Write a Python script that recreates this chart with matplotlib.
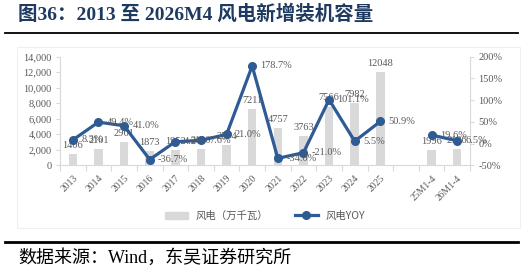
import numpy as np
import matplotlib
matplotlib.use('Agg')
import matplotlib.pyplot as plt
from matplotlib.lines import Line2D
from matplotlib.patches import Patch, Rectangle

plt.rcParams['font.family'] = ['Liberation Serif', 'Noto Sans CJK SC', 'DejaVu Sans']

cats = ['2013', '2014', '2015', '2016', '2017', '2018', '2019', '2020', '2021',
        '2022', '2023', '2024', '2025', '', '25M1-4', '26M1-4']
cap = [1406, 2101, 2961, 1873, 1952, 2100, 2574, 7211, 4757, 3763, 7566, 7982,
       12048, np.nan, 1996, 2126]
yoy = [8.3, 49.4, 41.0, -36.7, 4.2, 7.6, 21.0, 178.7, -34.0, -21.0, 101.1, 5.5,
       50.9, np.nan, 19.6, 6.5]

bar_c = '#D9D9D9'
line_c = '#2E5B94'
txt_c = '#595959'
ax_c = '#D9D9D9'

fig = plt.figure(figsize=(5.25, 2.76), dpi=100)
W, H = 525, 276

# title + rules
fig.text(18 / W, 1 - 14 / H, '图36：2013 至 2026M4 风电新增装机容量', fontsize=14,
         fontweight='bold', color='#1F3A60', va='center', ha='left',
         family=['Liberation Serif', 'Noto Sans CJK SC'])
fig.add_artist(Line2D([5 / W, 518 / W], [1 - 33 / H] * 2, color='black', lw=1.3))
fig.add_artist(Line2D([5 / W, 518 / W], [1 - 242 / H] * 2, color='black', lw=2))
fig.text(18 / W, 1 - 258 / H, '数据来源：Wind，东吴证券研究所', fontsize=13,
         color='black', va='center', ha='left',
         family=['Liberation Serif', 'Noto Sans CJK SC'])
fig.add_artist(Rectangle((17 / W, 1 - 228 / H), 503 / W, 181 / H, fill=False,
                         edgecolor='#EFEFEF', lw=0.8))

ax = fig.add_axes([60 / W, 1 - 165.3 / H, 410 / W, 108.6 / H])
x = np.arange(len(cats))
ax.bar(x, cap, width=0.33, color=bar_c, zorder=1)
ax.set_xlim(-0.5, len(cats) - 0.5)
ax.set_ylim(0, 14000)
ax.set_yticks(np.arange(0, 14001, 2000))
ax.set_yticklabels([f'{v:,}' for v in range(0, 14001, 2000)])
for i, v in enumerate(cap):
    if not np.isnan(v):
        ax.annotate(f'{v:.0f}', (i, v), xytext=(0, 3), textcoords='offset points',
                    ha='center', va='bottom', fontsize=7.5, color=txt_c, zorder=5)

ax.set_xticks(x)
ax.set_xticklabels(cats, rotation=45, ha='right', va='top', rotation_mode='anchor')
ax.set_xticks(np.arange(-0.5, len(cats)), minor=True)
ax.tick_params(axis='x', which='major', length=0, pad=6, labelsize=7, labelcolor=txt_c)
ax.tick_params(axis='x', which='minor', length=4, color=ax_c, width=0.8)
ax.tick_params(axis='y', length=3, color=ax_c, labelsize=7.5, labelcolor=txt_c, pad=3)
for s in ['top', 'right']:
    ax.spines[s].set_visible(False)
for s in ['left', 'bottom']:
    ax.spines[s].set_color(ax_c)
    ax.spines[s].set_linewidth(0.8)

ax2 = ax.twinx()
ax2.plot(x, yoy, color=line_c, lw=2.3, marker='o', markersize=5.5, zorder=3)
ax2.set_ylim(-50, 200)
ax2.set_yticks(np.arange(-50, 201, 50))
ax2.set_yticklabels([f'{v}%' for v in range(-50, 201, 50)])
ax2.tick_params(axis='y', length=3, color=ax_c, labelsize=7.5, labelcolor=txt_c, pad=3)
for s in ['top', 'left', 'bottom']:
    ax2.spines[s].set_visible(False)
ax2.spines['right'].set_color(ax_c)
ax2.spines['right'].set_linewidth(0.8)
for i, v in enumerate(yoy):
    if not np.isnan(v):
        ax2.annotate(f'{v:.1f}%', (i, v), xytext=(6, 0), textcoords='offset points',
                     ha='left', va='center', fontsize=7.5, color=txt_c, zorder=6)

handles = [Patch(color=bar_c, label='风电（万千瓦）'),
           Line2D([], [], color=line_c, lw=2.3, marker='o', markersize=5.5, label='风电YOY')]
fig.legend(handles=handles, loc='center', bbox_to_anchor=(265 / W, 1 - 216 / H),
           ncol=2, frameon=False, fontsize=7.5, labelcolor=txt_c, handlelength=2.2,
           columnspacing=2.5, prop={'family': ['Noto Sans CJK SC', 'Liberation Serif'],
                                    'size': 7.5})

fig.savefig('out.png', dpi=100)
